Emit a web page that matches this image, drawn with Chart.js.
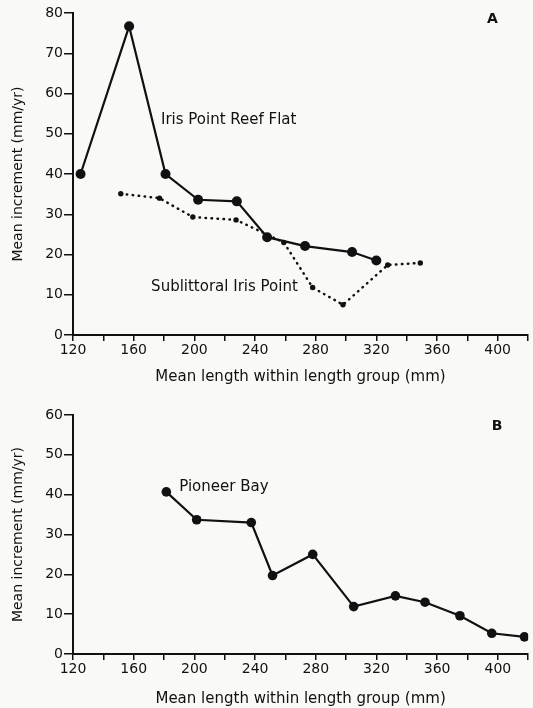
<!DOCTYPE html>
<html>
<head>
<meta charset="utf-8">
<script src="https://cdn.jsdelivr.net/npm/chart.js@4.4.1/dist/chart.umd.min.js"></script>
<style>
  html, body { margin: 0; padding: 0; background: #f9f9f7; }
  #wrap { position: relative; width: 533px; height: 708px; overflow: hidden; }
  canvas { position: absolute; left: 0; }
  #chartA { top: 0; }
  #chartB { top: 390px; }
</style>
</head>
<body>
<div id="wrap">
  <canvas id="chartA" width="533" height="390"></canvas>
  <canvas id="chartB" width="533" height="318"></canvas>
</div>
<script>
// panel A - Iris Point
const reefLength = [125, 157, 181, 202.5, 228, 248, 273, 304, 320];
const reefIncrement = [40, 76.7, 40, 33.6, 33.2, 24.3, 22.1, 20.6, 18.5];
const subLength = [151.5, 177, 199, 227.5, 259, 278, 298, 327.5, 349];
const subIncrement = [35.1, 34, 29.3, 28.6, 23, 11.8, 7.5, 17.4, 17.9];

// panel B - Pioneer Bay
const pioneerLength = [181.5, 201.5, 237.5, 251.5, 278, 305, 332.5, 352, 375, 396, 417.5];
const pioneerIncrement = [40.7, 33.7, 33, 19.7, 25, 11.9, 14.6, 13, 9.6, 5.2, 4.3];

// axes
const lengthLabels = [120, 160, 200, 240, 280, 320, 360, 400];
const xTitle = "Mean length within length group (mm)";
const yTitle = "Mean increment (mm/yr)";

const ink = "#111111";
const family = "'DejaVu Sans', sans-serif";

function toPoints(xs, ys) {
  return xs.map((x, i) => ({ x: x, y: ys[i] }));
}

// writes series names and panel letters at data positions
const notesPlugin = {
  id: "notes",
  afterDatasetsDraw(chart, args, opts) {
    const ctx = chart.ctx;
    const sx = chart.scales.x, sy = chart.scales.y;
    ctx.save();
    ctx.fillStyle = ink;
    ctx.textBaseline = "middle";
    ctx.textAlign = "left";
    (opts.items || []).forEach(n => {
      ctx.font = (n.bold ? "bold " : "") + n.size + "px " + family;
      ctx.fillText(n.text, sx.getPixelForValue(n.x), sy.getPixelForValue(n.y));
    });
    ctx.restore();
  }
};

function xScale(boxHeight, titlePad) {
  return {
    type: "linear",
    min: 120, max: 420,
    ticks: {
      stepSize: 20, autoSkip: false, maxRotation: 0, padding: 1,
      color: ink, font: { family: family, size: 14 },
      callback: v => lengthLabels.includes(v) ? String(v) : ""
    },
    grid: { drawOnChartArea: false, drawTicks: true, tickLength: 6, color: ink, lineWidth: 1.5 },
    border: { display: true, color: ink, width: 2 },
    title: { display: true, text: xTitle, color: ink, font: { family: family, size: 15 }, padding: { top: 0, bottom: titlePad } },
    afterFit: s => { s.height = boxHeight; }
  };
}

function yScale(max) {
  return {
    min: 0, max: max,
    ticks: { stepSize: 10, padding: 1, color: ink, font: { family: family, size: 14 } },
    grid: { drawOnChartArea: false, drawTicks: true, tickLength: 9, color: ink, lineWidth: 1.5 },
    border: { display: true, color: ink, width: 2 },
    title: { display: true, text: yTitle, color: ink, font: { family: family, size: 14 }, padding: { top: 10, bottom: 0 } },
    afterFit: s => { s.width = 73; }
  };
}

new Chart(document.getElementById("chartA"), {
  type: "line",
  data: {
    datasets: [{
      label: "Iris Point Reef Flat",
      data: toPoints(reefLength, reefIncrement),
      borderColor: ink, backgroundColor: ink, borderWidth: 2.2,
      pointRadius: 5, pointBorderWidth: 0, tension: 0
    }, {
      label: "Sublittoral Iris Point",
      data: toPoints(subLength, subIncrement),
      borderColor: ink, backgroundColor: ink, borderWidth: 2.5,
      borderDash: [0.5, 5.5], borderCapStyle: "round",
      pointRadius: 2.7, pointBorderWidth: 0, tension: 0
    }]
  },
  options: {
    responsive: false,
    animation: false,
    layout: { padding: { top: 13, right: 1, bottom: 0, left: 0 } },
    scales: { x: xScale(55, 4), y: yScale(80) },
    plugins: {
      legend: { display: false },
      tooltip: { enabled: false },
      notes: { items: [
        { text: "Iris Point Reef Flat", x: 178, y: 53.4, size: 15 },
        { text: "Sublittoral Iris Point", x: 171.5, y: 11.8, size: 15 },
        { text: "A", x: 393, y: 78.3, size: 14, bold: true }
      ] }
    }
  },
  plugins: [notesPlugin]
});

new Chart(document.getElementById("chartB"), {
  type: "line",
  data: {
    datasets: [{
      label: "Pioneer Bay",
      data: toPoints(pioneerLength, pioneerIncrement),
      borderColor: ink, backgroundColor: ink, borderWidth: 2.2,
      pointRadius: 4.8, pointBorderWidth: 0, tension: 0
    }]
  },
  options: {
    responsive: false,
    animation: false,
    layout: { padding: { top: 25, right: 1, bottom: 0, left: 0 } },
    scales: { x: xScale(54, 0), y: yScale(60) },
    plugins: {
      legend: { display: false },
      tooltip: { enabled: false },
      notes: { items: [
        { text: "Pioneer Bay", x: 190, y: 41.9, size: 15 },
        { text: "B", x: 396, y: 57.2, size: 14, bold: true }
      ] }
    }
  },
  plugins: [notesPlugin]
});
</script>
</body>
</html>
